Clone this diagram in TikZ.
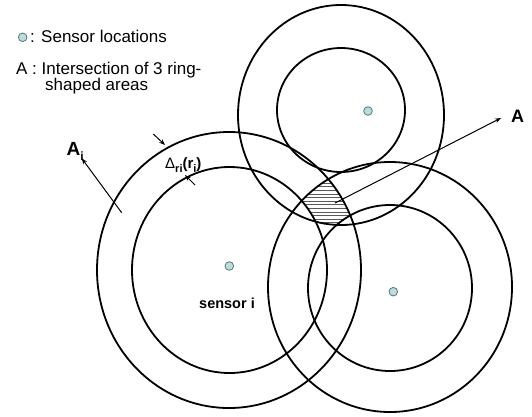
\documentclass[tikz,border=0pt]{standalone}
\usepackage{fontspec}
\setmainfont{Liberation Sans}
\usetikzlibrary{arrows.meta}
\definecolor{dotfill}{HTML}{B7DFE1}
\definecolor{dotline}{HTML}{5F7373}
\begin{document}
\begin{tikzpicture}[x=1pt,y=-1pt,
  ring/.style={line width=1.8pt},
  sensor/.style={circle,draw=dotline,fill=dotfill,line width=0.8pt,minimum size=8.6pt,inner sep=0pt},
  arr/.style={line width=1pt,-{Stealth[length=6pt,width=4.5pt]}},
  lab/.style={inner sep=0pt,anchor=base west},
  hatchline/.style={line width=0.7pt,black!65}]
\useasboundingbox (0,0) rectangle (532,416);
% hatched intersection
\begin{scope}
  \clip (229,270) ellipse [x radius=132pt,y radius=138pt];
  \clip (341,115) ellipse [x radius=103pt,y radius=110pt];
  \clip (390,287) ellipse [x radius=122pt,y radius=125pt];
  \foreach \yy in {176,179.6,...,232} \draw[hatchline] (280,\yy) -- (370,\yy);
  \fill[white] (229.5,270) ellipse [x radius=97.5pt,y radius=103pt];
  \fill[white] (341,110) ellipse [x radius=64pt,y radius=62pt];
  \fill[white] (390,288) ellipse [x radius=82pt,y radius=83pt];
\end{scope}
% rings
\draw[ring] (229,270) ellipse [x radius=132pt,y radius=138pt];
\draw[ring] (229.5,270) ellipse [x radius=97.5pt,y radius=103pt];
\draw[ring] (341,115) ellipse [x radius=103pt,y radius=110pt];
\draw[ring] (341,110) ellipse [x radius=64pt,y radius=62pt];
\draw[ring] (390,287) ellipse [x radius=122pt,y radius=125pt];
\draw[ring] (390,288) ellipse [x radius=82pt,y radius=83pt];
% sensors
\node[sensor] (si) at (229.3,266) {};
\node[sensor] (st) at (368,111) {};
\node[sensor] (sr) at (393.3,291.7) {};
% legend
\node[sensor] (leg) at (22.7,37.3) {};
\node[lab,font=\fontsize{17}{17}\selectfont] (legt) at (30,42) {: Sensor locations};
\node[lab,font=\fontsize{17}{17}\selectfont] (legA) at (16,74.5) {A : Intersection of 3 ring-};
\node[lab,font=\fontsize{17}{17}\selectfont] (legB) at (45,90) {shaped areas};
% labels
\node[lab,font=\fontsize{14.5}{14.5}\selectfont\bfseries] (silab) at (199,308.3) {sensor i};
\node[lab,font=\fontsize{18}{18}\selectfont\bfseries] (Alab) at (511,122) {A};
\node[lab,font=\fontsize{19}{19}\selectfont\bfseries] (Ai) at (66.5,155) {A\raisebox{-5pt}{\fontsize{12}{12}\selectfont i}};
\node[lab,font=\fontsize{15}{15}\selectfont] (dl) at (165,168) {Δ\raisebox{-4pt}{\fontsize{11}{11}\selectfont\bfseries ri}\bfseries(r\raisebox{-4pt}{\fontsize{11}{11}\selectfont i})};
% arrows
\coordinate (aS) at (335,203);
\coordinate (aT) at (501,118);
\draw[arr] (aS) -- (aT);
\coordinate (aiS) at (121.7,212.7);
\coordinate (aiT) at (81.7,158.3);
\draw[arr] (aiS) -- (aiT);
\coordinate (d1S) at (153.3,134);
\coordinate (d1T) at (165,145);
\draw[arr] (d1S) -- (d1T);
\coordinate (d2S) at (195,185);
\coordinate (d2T) at (185,175);
\draw[arr] (d2S) -- (d2T);
\end{tikzpicture}
\end{document}
